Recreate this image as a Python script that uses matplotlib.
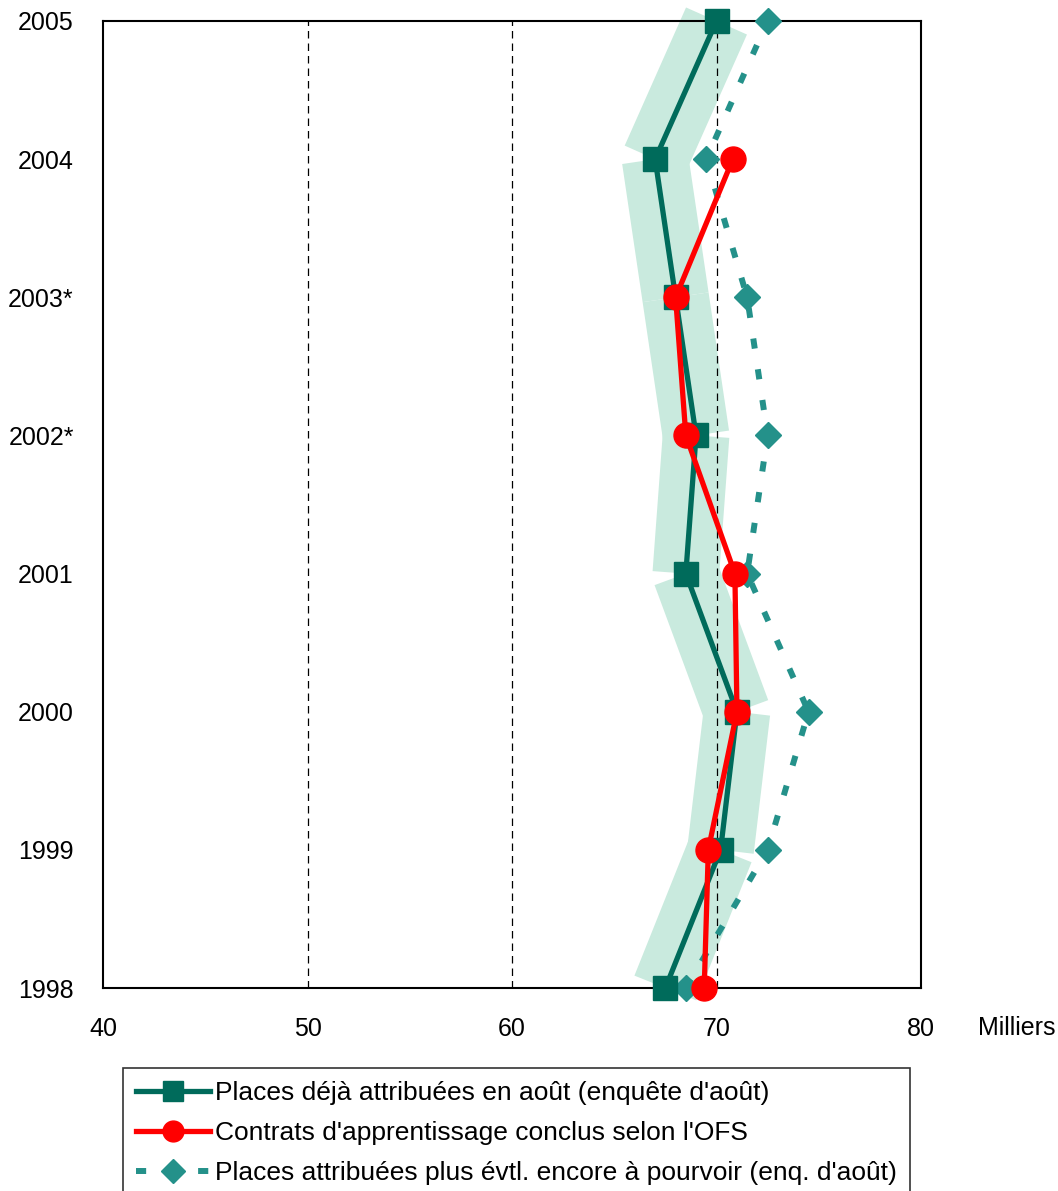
import matplotlib
matplotlib.use('Agg')
import matplotlib.pyplot as plt
from matplotlib.lines import Line2D

plt.rcParams['font.family'] = ['Liberation Sans', 'DejaVu Sans']

years = ['1998', '1999', '2000', '2001', '2002*', '2003*', '2004', '2005']
places_aout = [67.5, 70.2, 71.0, 68.5, 69.0, 68.0, 67.0, 70.0]
contrats_ofs = [69.4, 69.6, 71.0, 70.9, 68.5, 68.0, 70.8]  # no 2005 value
places_plus = [68.5, 72.5, 74.5, 71.5, 72.5, 71.5, 69.5, 72.5]
x_ticks = [40, 50, 60, 70, 80]

labels = ["Places déjà attribuées en août (enquête d'août)",
          "Contrats d'apprentissage conclus selon l'OFS",
          "Places attribuées plus évtl. encore à pourvoir (enq. d'août)"]

dark_green = '#006b5b'
teal = '#24918a'
band = '#c9eade'
red = '#ff0000'

fig = plt.figure(figsize=(10.58, 11.91), dpi=100)
ax = fig.add_axes([103 / 1058, 1 - 988 / 1191, (921 - 103) / 1058, (988 - 21) / 1191])

ypos = list(range(len(years)))

# wide light band behind the august series, drawn segment by segment
for i in range(len(places_aout) - 1):
    ax.plot(places_aout[i:i + 2], ypos[i:i + 2], color=band, lw=48,
            solid_capstyle='butt', zorder=1, clip_on=False)

for xv in [50, 60, 70]:
    ax.axvline(xv, color='black', lw=0.9, ls=(0, (6, 4)), zorder=2)

ax.plot(places_plus, ypos, color=teal, lw=4.3, ls=(0, (1.7, 3.5)),
        dash_capstyle='butt', zorder=3, clip_on=False)
ax.plot(places_plus, ypos, ls='none', marker='D', ms=13, color=teal,
        zorder=4, clip_on=False)
ax.plot(places_aout, ypos, color=dark_green, lw=3.8, marker='s', ms=17,
        zorder=5, clip_on=False)
ax.plot(contrats_ofs, ypos[:len(contrats_ofs)], color=red, lw=3.8, marker='o',
        ms=18, zorder=6, clip_on=False)

ax.set_xlim(40, 80)
ax.set_ylim(0, 7)
ax.set_xticks(x_ticks)
ax.set_yticks(ypos)
ax.set_yticklabels(years)
ax.tick_params(axis='both', length=0, labelsize=18)
ax.tick_params(axis='y', pad=21)
ax.tick_params(axis='x', pad=21)
for s in ax.spines.values():
    s.set_linewidth(1.5)

fig.text(1017 / 1058, 1 - 1028 / 1191, 'Milliers', fontsize=18,
         ha='center', va='center')

handles = [
    Line2D([], [], color=dark_green, lw=3.8, marker='s', ms=14),
    Line2D([], [], color=red, lw=3.8, marker='o', ms=15),
    Line2D([], [], color=teal, lw=4.3, ls=(0, (1.7, 3.5)), marker='D', ms=12,
           dash_capstyle='butt'),
]
leg = fig.legend(handles, labels, loc='upper left',
                 bbox_to_anchor=(123 / 1058, 1 - 1068 / 1191),
                 fontsize=19, frameon=True, fancybox=False, edgecolor='black',
                 handlelength=2.8, handletextpad=0.2, labelspacing=0.6,
                 borderpad=0.5, borderaxespad=0)
leg.get_frame().set_linewidth(1.2)

fig.savefig('out.png', dpi=100)
